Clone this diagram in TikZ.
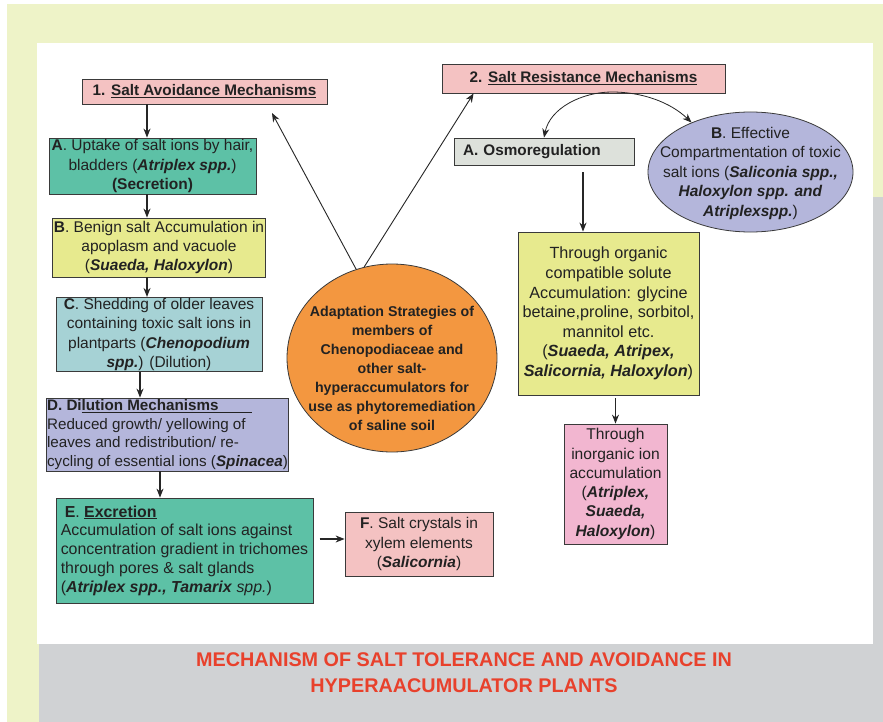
\documentclass[tikz,border=0pt]{standalone}
\usepackage{fontspec}
\setmainfont{Liberation Sans}
\usetikzlibrary{shapes.geometric,arrows.meta,calc}
\definecolor{bgyellow}{HTML}{EEF3C8}
\definecolor{bggray}{HTML}{D0D2D4}
\definecolor{pinkbox}{HTML}{F4C2C2}
\definecolor{tealbox}{HTML}{5DC1A6}
\definecolor{yelbox}{HTML}{E7EA8E}
\definecolor{bluebox}{HTML}{A6D2D5}
\definecolor{lavbox}{HTML}{B4B6DB}
\definecolor{orangec}{HTML}{F39740}
\definecolor{osmobox}{HTML}{DDE1DB}
\definecolor{magbox}{HTML}{F2B6D0}
\definecolor{titlered}{HTML}{E8412C}
\definecolor{bordc}{HTML}{3A3A3A}
\definecolor{txt}{HTML}{222222}
\begin{document}
\begin{tikzpicture}[x=1pt,y=-1pt,
  box/.style={draw=bordc, line width=0.8pt, inner sep=1pt, align=center,
    text=txt, font=\fontsize{15.5}{19.3}\selectfont},
  ell/.style={ellipse, draw=bordc, line width=0.8pt, inner sep=0pt},
  elltext/.style={align=center, text=txt, inner sep=0pt},
  arr/.style={-{Stealth[length=9pt,width=7pt]}, line width=1.2pt, draw=black!85},
  thinarr/.style={-{Stealth[length=9pt,width=7pt]}, line width=0.9pt, draw=black!85},
  curvearr/.style={{Stealth[length=9pt,width=7pt]}-{Stealth[length=9pt,width=7pt]}, line width=0.8pt, draw=black!85}]
\useasboundingbox (0,0) rectangle (883,722);
% background
\fill[white] (0,0) rectangle (883,722);
\fill[bgyellow] (7,4) rectangle (883,722);
\fill[bggray] (39,644) rectangle (883,722);
\fill[bggray] (873,197) rectangle (883,722);
\fill[white] (37,43) rectangle (873,644);

% left column
\node[box, fill=pinkbox, minimum width=245pt, minimum height=25pt, font=\fontsize{15.3}{19}\selectfont\bfseries]
  (h1) at (204.5,91.5) {1. \underline{Salt Avoidance Mechanisms}};
\node[box, fill=tealbox, minimum width=207pt, minimum height=56pt]
  (nA) at (152.5,166) {\textbf{A}. Uptake of salt ions by hair,\\ bladders (\textbf{\textit{Atriplex spp.}})\\ \textbf{(Secretion)}};
\node[box, fill=yelbox, minimum width=206pt, minimum height=59pt]
  (nB) at (159,247.5) {\textbf{B}. Benign salt Accumulation in\\ apoplasm and vacuole\\ (\textbf{\textit{Suaeda, Haloxylon}})};
\node[box, fill=bluebox, minimum width=206pt, minimum height=73pt]
  (nC) at (159,334.5) {\textbf{C}. Shedding of older leaves\\ containing toxic salt ions in\\ plantparts (\textbf{\textit{Chenopodium}}\\ \textbf{\textit{spp.}}) (Dilution)};
\node[box, fill=lavbox, minimum width=241pt, minimum height=73pt, align=left, font=\fontsize{15.2}{18.8}\selectfont]
  (nD) at (167.5,434.5) {\textbf{D. Di\underline{lution Mechanisms\hspace*{2.2em}}}\\ Reduced growth/ yellowing of\\ leaves and redistribution/ re-\\ cycling of essential ions (\textbf{\textit{Spinacea}})};
\node[box, fill=tealbox, minimum width=257pt, minimum height=105pt, align=left, font=\fontsize{15.9}{18.8}\selectfont]
  (nE) at (184.5,550.5) {\hspace*{4pt}\textbf{E}. \textbf{\underline{Excretion}}\\ Accumulation of salt ions against\\ concentration gradient in trichomes\\ through pores \& salt glands\\ (\textbf{\textit{Atriplex spp., Tamarix}} \textit{spp.})};
\node[box, fill=pinkbox, minimum width=148pt, minimum height=64pt]
  (nF) at (419,544) {\textbf{F}. Salt crystals in\\ xylem elements\\ (\textbf{\textit{Salicornia}})};

% central ellipse
\node[ell, fill=orangec, minimum width=210pt, minimum height=188pt] (circ) at (392,358) {};
\node[elltext, font=\fontsize{14.2}{19}\selectfont\bfseries] (circtext) at (392,368)
  {Adaptation Strategies of\\ members of\\ Chenopodiaceae and\\ other salt-\\ hyperaccumulators for\\ use as phytoremediation\\ of saline soil};

% right side
\node[box, fill=pinkbox, minimum width=283pt, minimum height=29pt, font=\fontsize{15.3}{19}\selectfont\bfseries]
  (h2) at (583.5,78.5) {2. \underline{Salt Resistance Mechanisms}};
\node[box, fill=osmobox, minimum width=180pt, minimum height=27pt, font=\fontsize{15.3}{19}\selectfont\bfseries,
  text width=162pt, align=left, inner sep=0pt]
  (osmo) at (544,151.5) {A. Osmoregulation};
\node[ell, fill=lavbox, minimum width=205pt, minimum height=120pt] (bell) at (750.5,172) {};
\node[elltext, font=\fontsize{15.5}{19.5}\selectfont] (belltext) at (750.5,173)
  {\textbf{B}. Effective\\ Compartmentation of toxic\\ salt ions (\textbf{\textit{Saliconia spp.,}}\\ \textbf{\textit{Haloxylon spp. and}}\\ \textbf{\textit{Atriplexspp.}})};
\node[box, fill=yelbox, minimum width=181pt, minimum height=163pt, font=\fontsize{16.2}{19.6}\selectfont]
  (org) at (608.5,313.5) {Through organic\\ compatible solute\\ Accumulation: glycine\\ betaine,proline, sorbitol,\\ mannitol etc.\\ (\textbf{\textit{Suaeda, Atripex,}}\\ \textbf{\textit{Salicornia, Haloxylon}})};
\node[box, fill=magbox, minimum width=103pt, minimum height=120pt, font=\fontsize{15.6}{19.3}\selectfont]
  (inorg) at (615.5,484) {Through\\ inorganic ion\\ accumulation\\ (\textbf{\textit{Atriplex,}}\\ \textbf{\textit{Suaeda,}}\\ \textbf{\textit{Haloxylon}})};

% title
\node[align=center, text=titlered, font=\fontsize{19.8}{26}\selectfont\bfseries]
  (title) at (464,673) {MECHANISM OF SALT TOLERANCE AND AVOIDANCE IN\\ HYPERAACUMULATOR PLANTS};

% helper coordinates
\coordinate (cx1) at (147,0);
\coordinate (cx2) at (140,0);
\coordinate (cx3) at (160,0);
\coordinate (cx4) at (583,0);
\coordinate (t1) at (272,113);
\coordinate (apex) at (612,92);

% left column arrows
\draw[arr] (h1.south -| cx1) -- (nA.north -| cx1);
\draw[arr] (nA.south -| cx1) -- (nB.north -| cx1);
\draw[arr] (nB.south -| cx1) -- (nC.north -| cx1);
\draw[arr] (nC.south -| cx2) -- (nD.north -| cx2);
\draw[arr] (nD.south -| cx3) -- (nE.north -| cx3);
\draw[arr] ($(nF.west)+(-25,-5)$) -- ($(nF.west)+(0,-5)$);

% from central ellipse
\draw[thinarr] (circ.112) -- (t1);
\draw[thinarr] (circ.107) -- ([xshift=32pt]h2.south west);

% right side arrows
\draw[curvearr] (osmo.north) .. controls (550,108) and (582,92) .. (apex)
  .. controls (642,92) and (670,102) .. (bell.140);
\draw[arr] ($(osmo.south -| cx4)+(0,7)$) -- (org.north -| cx4);
\draw[arr] ($(org.south -| inorg.north)+(0,3)$) -- (inorg.north);
\end{tikzpicture}
\end{document}
